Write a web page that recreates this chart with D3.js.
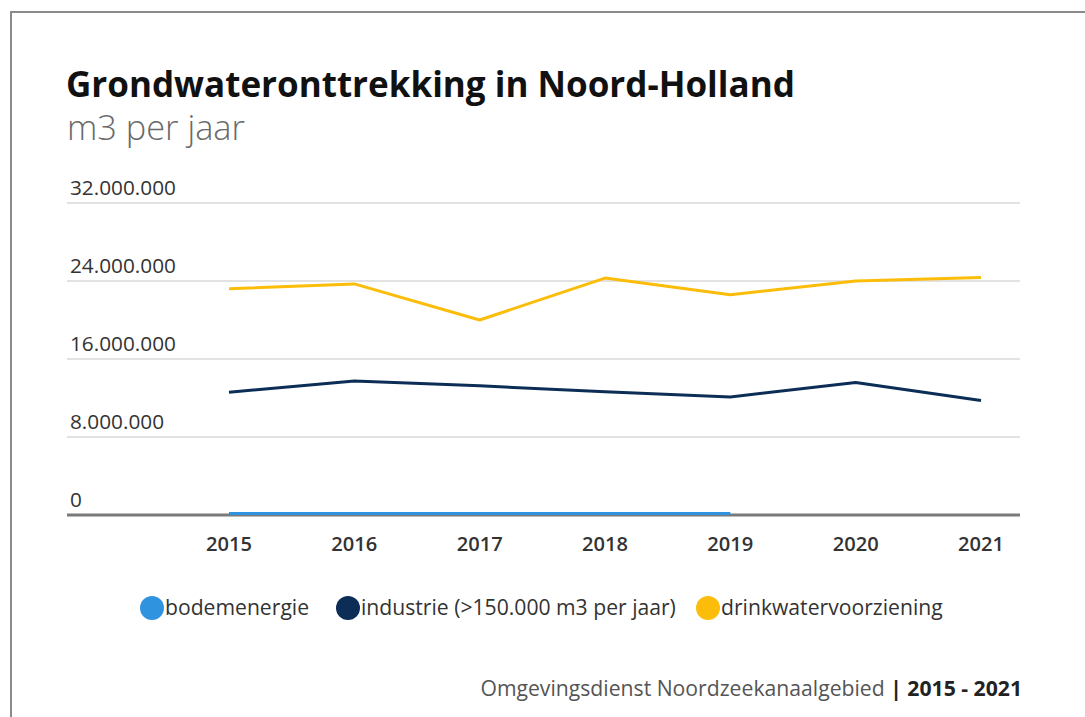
<!DOCTYPE html>
<html>
<head>
<meta charset="utf-8">
<script src="https://cdn.jsdelivr.net/npm/d3@7"></script>
<style>
  body { margin: 0; background: #fff; }
  svg { display: block; font-family: "Open Sans", "Lato", sans-serif; }
</style>
</head>
<body>
<svg></svg>
<script>
// chart data
const years = [2015, 2016, 2017, 2018, 2019, 2020, 2021];
const bodemenergie = [150000, 150000, 150000, 150000, 150000, null, null];
const industrie = [12600000, 13750000, 13250000, 12650000, 12100000, 13600000, 11750000];
const drinkwater = [23200000, 23700000, 20000000, 24300000, 22600000, 24000000, 24350000];
const yTicks = [0, 8000000, 16000000, 24000000, 32000000];
const seriesNames = ["bodemenergie", "industrie (>150.000 m3 per jaar)", "drinkwatervoorziening"];
const seriesColors = ["#2f93e0", "#0c2d55", "#fbbd0a"];

const width = 1085;
const height = 717;

const svg = d3.select("svg")
    .attr("width", width)
    .attr("height", height);

// dutch number format, dots as thousands separator
const nl = d3.formatLocale({ decimal: ",", thousands: ".", grouping: [3], currency: ["€", ""] });
const fmt = nl.format(",d");

// scale a text's font size so it spans the given width (the original font is narrower/wider)
function fit(sel, target) {
  const size = parseFloat(sel.attr("font-size"));
  const len = sel.node().getComputedTextLength();
  return size * target / len;
}

// frame around the screenshot
svg.append("path")
    .attr("d", `M11,${height} V12 H${width}`)
    .attr("fill", "none")
    .attr("stroke", "#8a8a8a")
    .attr("stroke-width", 2);

// title
const title = svg.append("text")
    .attr("x", 66)
    .attr("y", 97)
    .attr("font-size", 32)
    .attr("font-weight", "bold")
    .attr("fill", "#111")
    .text("Grondwateronttrekking in Noord-Holland");
title.attr("font-size", fit(title, 729));

const sub = svg.append("text")
    .attr("x", 67)
    .attr("y", 140)
    .attr("font-size", 30)
    .attr("font-weight", 300)
    .attr("fill", "#6a6a6a")
    .text("m3 per jaar");
sub.attr("font-size", fit(sub, 178));

const left = 67, right = 1020;

const x = d3.scaleLinear()
    .domain([2015, 2021])
    .range([229, 981]);

const y = d3.scaleLinear()
    .domain([0, 32000000])
    .range([515, 203]);

// gridlines + labels above them
const grid = svg.append("g");
grid.selectAll("line")
    .data(yTicks.filter(d => d > 0))
    .enter().append("line")
    .attr("x1", left)
    .attr("x2", right)
    .attr("y1", d => y(d))
    .attr("y2", d => y(d))
    .attr("stroke", "#e2e2e2")
    .attr("stroke-width", 2);

const yLabels = grid.selectAll("text")
    .data(yTicks)
    .enter().append("text")
    .attr("x", 70)
    .attr("y", d => y(d) - 8)
    .attr("font-size", 17)
    .attr("fill", "#333")
    .text(d => fmt(d));
yLabels.attr("font-size", fit(yLabels.filter(d => d === 32000000), 106));

// baseline
svg.append("line")
    .attr("x1", left)
    .attr("x2", right)
    .attr("y1", y(0))
    .attr("y2", y(0))
    .attr("stroke", "#7a7a7a")
    .attr("stroke-width", 3);

// x axis labels
const xLabels = svg.append("g")
    .selectAll("text")
    .data(years)
    .enter().append("text")
    .attr("x", d => x(d))
    .attr("y", 551)
    .attr("text-anchor", "middle")
    .attr("font-size", 17)
    .attr("font-weight", 600)
    .attr("fill", "#333")
    .text(d => d);
xLabels.attr("font-size", fit(xLabels.filter((d, i) => i === 0), 46));

// lines
const series = [bodemenergie, industrie, drinkwater];
const line = d3.line()
    .defined(d => d != null)
    .x((d, i) => x(years[i]))
    .y(d => y(d));

svg.append("g")
    .selectAll("path")
    .data(series)
    .enter().append("path")
    .attr("d", d => line(d))
    .attr("fill", "none")
    .attr("stroke", (d, i) => seriesColors[i])
    .attr("stroke-width", 3)
    .attr("stroke-linejoin", "round");

// legend
const legendX = [152, 348, 708];
const legend = svg.append("g");
seriesNames.forEach((name, i) => {
  legend.append("circle")
      .attr("cx", legendX[i])
      .attr("cy", 608)
      .attr("r", 12)
      .attr("fill", seriesColors[i]);
});
const legendText = legend.selectAll("text")
    .data(seriesNames)
    .enter().append("text")
    .attr("x", (d, i) => legendX[i] + 13)
    .attr("y", 615)
    .attr("font-size", 19)
    .attr("fill", "#333")
    .text(d => d);
legendText.attr("font-size", fit(legendText.filter((d, i) => i === 1), 315));

// source line
const src = svg.append("text")
    .attr("x", 1022)
    .attr("y", 696)
    .attr("text-anchor", "end")
    .attr("font-size", 19)
    .attr("fill", "#555");
src.append("tspan").text("Omgevingsdienst Noordzeekanaalgebied ");
src.append("tspan").attr("font-weight", "bold").attr("fill", "#222").text("| 2015 - 2021");
src.attr("font-size", fit(src, 542));
</script>
</body>
</html>
